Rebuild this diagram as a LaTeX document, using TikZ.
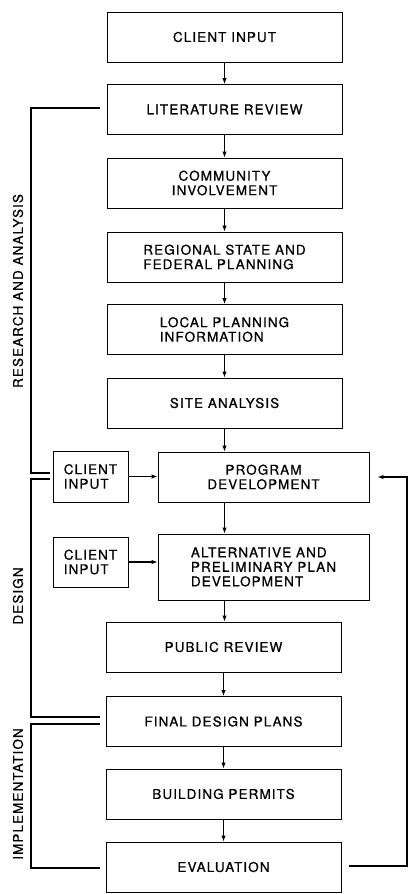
\documentclass[tikz,border=0pt]{standalone}
\usepackage{fontspec}
\setmainfont[LetterSpace=8,FakeBold=0.8]{TeX Gyre Heros}
\usetikzlibrary{arrows.meta,calc}
\newcommand\dgfont{\fontsize{13.5}{14.5}\selectfont}
\tikzset{
  box/.style={draw, line width=0.9pt, minimum width=235pt, minimum height=50pt, inner sep=0pt, align=center, font=\dgfont},
  nbox/.style={box, minimum width=211pt},
  sbox/.style={box, minimum width=75pt, align=left},
  flow/.style={line width=1.1pt, -{Latex[length=6pt,width=4.5pt]}},
  brk/.style={line width=1.2pt},
  phase/.style={rotate=90, font=\dgfont, inner sep=0pt}
}
\begin{document}
\begin{tikzpicture}[x=1pt,y=-1pt]
\useasboundingbox (0,0) rectangle (409,894);
% main column
\node[box] (ci)   at (224.5,37)   {CLIENT INPUT};
\node[box] (lit)  at (224.5,109.5){LITERATURE REVIEW};
\node[box] (com)  at (224.5,183)  {COMMUNITY\\INVOLVEMENT};
\node[box, align=left] (reg)  at (224.5,257) {REGIONAL STATE AND\\FEDERAL PLANNING};
\node[box, align=left] (loc)  at (224.5,329.5) {LOCAL PLANNING\\INFORMATION};
\node[box] (site) at (224.5,403)  {SITE ANALYSIS};
\node[nbox] (prog) at (263.5,477) {PROGRAM\\DEVELOPMENT};
\node[nbox, minimum height=66pt, align=left] (alt) at (263.5,567) {ALTERNATIVE AND\\PRELIMINARY PLAN\\DEVELOPMENT};
\node[box] (pub)  at (223.5,647)  {PUBLIC REVIEW};
\node[box] (fin)  at (223.5,721.5){FINAL DESIGN PLANS};
\node[box] (bld)  at (223.5,794)  {BUILDING PERMITS};
\node[box] (ev)   at (223.5,867)  {EVALUATION};
% side client inputs
\node[sbox, minimum height=51pt] (cia) at (90.5,476.5) {CLIENT\\INPUT};
\node[sbox] (cib) at (90.5,562) {CLIENT\\INPUT};
% phase labels
\node[phase] (lra) at (18,291) {RESEARCH AND ANALYSIS};
\node[phase] (lde) at (18,596) {DESIGN};
\node[phase] (lim) at (18,794) {IMPLEMENTATION};
% flow arrows
\draw[flow] (ci) -- (lit);
\draw[flow] (lit) -- (com);
\draw[flow] (com) -- (reg);
\draw[flow] (reg) -- (loc);
\draw[flow] (loc) -- (site);
\draw[flow] (site.south) -- (site.south |- prog.north);
\draw[flow] (site.south |- prog.south) -- (site.south |- alt.north);
\draw[flow] (site.south |- alt.south) -- (site.south |- pub.north);
\draw[flow] (pub) -- (fin);
\draw[flow] (fin) -- (bld);
\draw[flow] (bld) -- (ev);
\draw[flow] (cia.east) -- (cia.east -| prog.west);
\draw[flow] (cib.east) -- (cib.east -| alt.west);
% brackets
\coordinate (sp) at (31,0);
\coordinate (ra1) at ($(lit.west)+(-7,-1.5)$);
\coordinate (ra2) at ($(cia.west)+(-3,-3.5)$);
\coordinate (de1) at ($(cia.west)+(-3,2.5)$);
\coordinate (de2) at ($(fin.west)+(-6,-4.5)$);
\coordinate (im1) at ($(fin.west)+(-6,2.5)$);
\coordinate (im2) at ($(ev.west)+(-6,1)$);
\draw[brk] (ra1) -- (ra1 -| sp) -- (ra2 -| sp) -- (ra2);
\draw[brk] (de1) -- (de1 -| sp) -- (de2 -| sp) -- (de2);
\draw[brk] (im1) -- (im1 -| sp) -- (im2 -| sp) -- (im2);
% feedback loop
\coordinate (fb) at (407,0);
\coordinate (fs) at ($(ev.east)+(8,-1)$);
\coordinate (fe) at ($(prog.east)+(8,0)$);
\draw[flow] (fs) -- (fs -| fb) -- (fe -| fb) -- (fe);
\end{tikzpicture}
\end{document}
